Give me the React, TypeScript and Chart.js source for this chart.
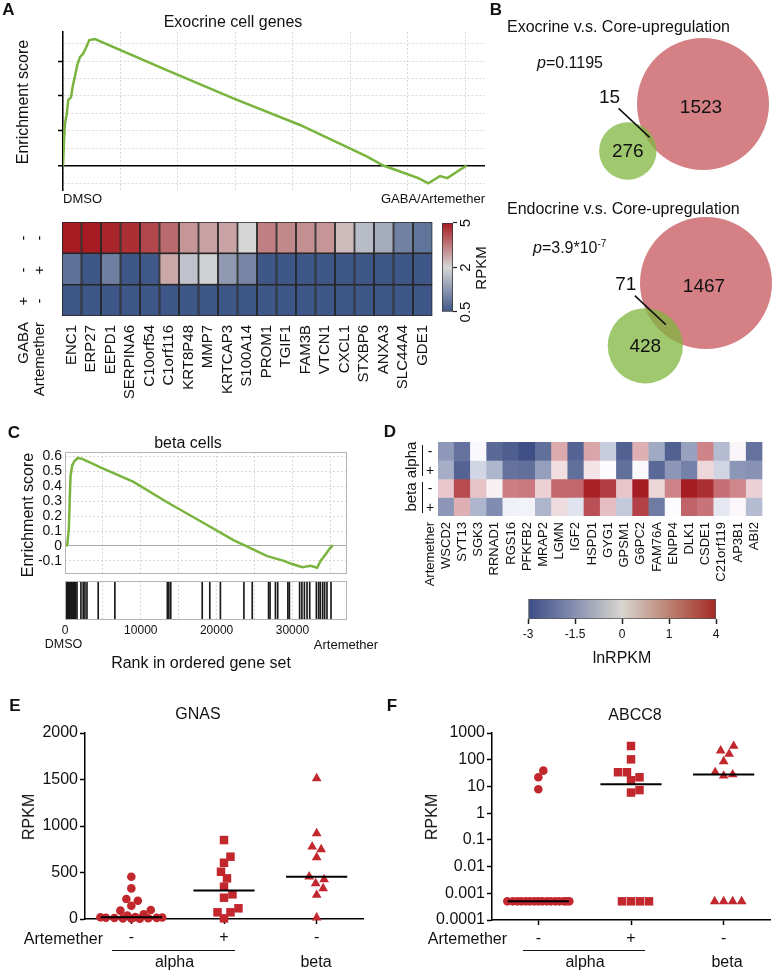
import React, { useEffect, useRef } from 'react';
import { Chart, registerables } from 'chart.js';

Chart.register(...registerables);

const FONT = '"Liberation Sans", Arial, Helvetica, sans-serif';
Chart.defaults.font.family = FONT;
Chart.defaults.color = '#111';

// ======================= DATA =======================
// Panel A – GSEA running enrichment score (exocrine cell genes)
const exoRankMax = 36700;
const exoRank = [0, 87, 174, 320, 460, 696, 843, 1044, 1244, 1478, 1766, 2000, 2290, 2783, 9019, 14813, 20612, 26412, 27860, 29310, 30900, 31775, 32790, 33420, 34530, 35110];
const exoES = [0, 0.074, 0.122, 0.146, 0.189, 0.196, 0.227, 0.257, 0.289, 0.311, 0.322, 0.338, 0.36, 0.363, 0.274, 0.193, 0.117, 0.027, 0.001, -0.016, -0.035, -0.05, -0.029, -0.035, -0.011, 0.001];
const exoRankGrid = [0, 5000, 10000, 15000, 20000, 25000, 30000, 35000];
const exoESGrid = [-0.05, 0, 0.05, 0.1, 0.15, 0.2, 0.25, 0.3, 0.35];

// Panel A – heatmap (RPKM)
const exoGenes = ['ENC1', 'ERP27', 'EEPD1', 'SERPINA6', 'C10orf54', 'C1orf116', 'KRT8P48', 'MMP7', 'KRTCAP3', 'S100A14', 'PROM1', 'TGIF1', 'FAM3B', 'VTCN1', 'CXCL1', 'STXBP6', 'ANXA3', 'SLC44A4', 'GDE1'];
const exoRowGABA = ['-', '-', '+'];
const exoRowArt = ['-', '+', '-'];
const exoRowMM = [5.0, 5.0, 4.85, 4.7, 4.3, 3.75, 3.05, 2.85, 2.8, 2.0, 3.4, 3.25, 3.15, 3.05, 2.45, 1.7, 1.5, 1.0, 0.85];
const exoRowMP = [0.83, 0.5, 0.98, 0.5, 0.52, 2.75, 1.77, 1.94, 1.3, 1.06, 0.5, 0.5, 0.5, 0.5, 0.5, 0.5, 0.5, 0.5, 0.5];
const exoRowPM = [0.5, 0.5, 0.5, 0.5, 0.5, 0.5, 0.5, 0.5, 0.5, 0.5, 0.5, 0.5, 0.5, 0.5, 0.5, 0.5, 0.5, 0.5, 0.5];
const rpkmTicks = [0.5, 2, 5];

// Panel B – Venn counts
const vennTitles = ['Exocrine v.s. Core-upregulation', 'Endocrine v.s. Core-upregulation'];
const vennSetOnly = [276, 428];
const vennOverlap = [15, 71];
const vennCoreOnly = [1523, 1467];

// Panel C – GSEA beta cells
const betaRankMax = 37200;
const betaRank = [0, 290, 500, 630, 730, 950, 1250, 1690, 2270, 4680, 9040, 13480, 17880, 22290, 23830, 26680, 28880, 29980, 31290, 32390, 33270, 33710, 34370, 34800, 35330];
const betaES = [0, 0.006, 0.11, 0.32, 0.47, 0.54, 0.57, 0.59, 0.584, 0.527, 0.43, 0.293, 0.166, 0.038, 0, -0.068, -0.1, -0.121, -0.142, -0.132, -0.146, -0.1, -0.057, -0.025, 0.006];
const betaHits = [0, 70, 150, 220, 310, 390, 460, 540, 610, 700, 770, 850, 930, 1010, 1090, 1170, 1240, 1330, 1410, 1580, 2100, 2400, 2630, 2900, 4380, 6580, 13500, 13700, 13950, 18100, 19100, 20500, 23600, 24700, 26850, 27050, 27760, 28060, 29400, 29600, 30950, 31250, 31580, 31930, 32280, 33160, 33460, 33680, 33990, 34250, 34560, 35090];
const betaRankGrid = [0, 5000, 10000, 15000, 20000, 25000, 30000, 35000];
const rankTickLabels = [0, 10000, 20000, 30000];
const betaESTicks = [-0.1, 0, 0.1, 0.2, 0.3, 0.4, 0.5, 0.6];

// Panel D – heatmap (lnRPKM)
const endoGenes = ['WSCD2', 'SYT13', 'SGK3', 'RRNAD1', 'RGS16', 'PFKFB2', 'MRAP2', 'LGMN', 'IGF2', 'HSPD1', 'GYG1', 'GPSM1', 'G6PC2', 'FAM76A', 'ENPP4', 'DLK1', 'CSDE1', 'C21orf119', 'AP3B1', 'ABI2'];
const endoRowCell = ['alpha', 'alpha', 'beta', 'beta'];
const endoRowArt = ['-', '+', '-', '+'];
const alphaMinus = [-1.7, -2.35, -0.05, -2.5, -2.7, -2.95, -2.4, 0.74, -2.6, 0.78, -0.8, -2.65, 0.68, -1.4, -2.65, -1.55, 1.24, -1.1, 0.06, -2.35];
const alphaPlus = [-1.35, -2.6, -0.65, -1.2, -2.35, -2.4, -1.6, 0.27, -2.4, 0.21, 0, -2.4, 0.04, -2.5, -1.73, -2.1, 0.33, -0.68, -1.73, -1.8];
const betaMinus = [0.46, 2.74, 0.51, 0.11, 1.4, 1.54, 0.39, 2.0, 2.0, 3.9, 3.1, 0.48, 4.0, 0.36, 1.24, 4.0, 3.5, 1.8, 1.13, 0.38];
const betaPlus = [-1.73, 0.69, -1.2, -1.9, -0.19, -0.15, -1.2, 0.29, -0.42, 2.6, 0.55, -0.88, 3.0, -2.2, 0, 2.07, 1.67, -0.34, 0.05, -1.1];
const lnTicks = [-3, -1.5, 0, 1, 4];

// Panels E / F – single-cell dot plots
const artemetherSigns = ['-', '+', '-'];
const gnasAlphaMinus = [455, 329, 215, 197, 143, 97, 90, 50, 36, 20, 18, 16, 14, 12, 10, 8, 6, 4, 2];
const gnasAlphaPlus = [849, 670, 605, 508, 437, 347, 265, 229, 115, 72, 72, 7];
const gnasBeta = [1512, 921, 777, 749, 663, 455, 426, 383, 329, 258, 14];
const gnasTicks = [0, 500, 1000, 1500, 2000];
const abcc8AlphaMinus = [39, 22, 7.8, 0.0005, 0.0005, 0.0005, 0.0005, 0.0005, 0.0005, 0.0005, 0.0005, 0.0005, 0.0005, 0.0005, 0.0005, 0.0005, 0.0005, 0.0005, 0.0005];
const abcc8AlphaPlus = [326, 103, 34, 34, 22, 17, 7.3, 5.9, 0.0005, 0.0005, 0.0005, 0.0005];
const abcc8Beta = [326, 218, 163, 86, 34, 28, 25, 0.0005, 0.0005, 0.0005, 0.0005];
const abcc8Ticks = [0.0001, 0.001, 0.01, 0.1, 1, 10, 100, 1000];

// ======================= STYLE / LAYOUT =======================
const GSEA_GREEN = '#78b43e';
const GRID = '#d8d8d8';
const DOT_RED = '#c1272d';
const VENN = {
  pxPerSqrt: 1.683,
  overlapScale: 2.9,
  redCenters: [[213, 74], [216, 253]],
  anglesDeg: [148, 134],
  leader: [-31, -29],
  labelOff: [-9, -11],
};

// ======================= HELPERS =======================
type RGB = [number, number, number];
const lerp = (a: RGB, b: RGB, t: number): string => {
  const k = Math.max(0, Math.min(1, t));
  return `rgb(${Math.round(a[0] + (b[0] - a[0]) * k)},${Math.round(a[1] + (b[1] - a[1]) * k)},${Math.round(a[2] + (b[2] - a[2]) * k)})`;
};
const A_BLUE: RGB = [62, 86, 136];
const A_GRAY: RGB = [214, 214, 214];
const A_RED: RGB = [166, 28, 34];
function rpkmPos(v: number) {
  return v <= 2 ? ((v - 0.5) / 1.5) * 0.5 : 0.5 + ((v - 2) / 3) * 0.5;
}
function rpkmColor(v: number) {
  const p = rpkmPos(v);
  return p <= 0.5 ? lerp(A_BLUE, A_GRAY, p / 0.5) : lerp(A_GRAY, A_RED, (p - 0.5) / 0.5);
}
const D_BLUE: RGB = [58, 76, 130];
const D_WHITE: RGB = [252, 252, 255];
const D_RED: RGB = [165, 28, 34];
function lnPos(v: number) {
  const n = lnTicks.length - 1;
  if (v <= lnTicks[0]) return 0;
  for (let i = 0; i < n; i++) {
    if (v <= lnTicks[i + 1]) return (i + (v - lnTicks[i]) / (lnTicks[i + 1] - lnTicks[i])) / n;
  }
  return 1;
}
function lnColor(v: number) {
  const p = lnPos(v);
  return p <= 0.5 ? lerp(D_BLUE, D_WHITE, p / 0.5) : lerp(D_WHITE, D_RED, (p - 0.5) / 0.5);
}
const LN_BAR_STOPS: [number, string][] = [[0, '#3b4c86'], [0.25, '#8790b0'], [0.5, '#d8d5cf'], [0.75, '#bb8271'], [1, '#a52a26']];

function hGradient(chart: any, stops: [number, string][]) {
  const a = chart.chartArea;
  if (!a) return stops[0][1];
  const g = chart.ctx.createLinearGradient(a.left, 0, a.right, 0);
  stops.forEach(([p, c]) => g.addColorStop(p, c));
  return g;
}

function median(a: number[]) {
  const s = [...a].sort((x, y) => x - y);
  const n = s.length;
  return n % 2 ? s[(n - 1) / 2] : (s[n / 2 - 1] + s[n / 2]) / 2;
}

function swarm(values: number[], yPx: (v: number) => number, diam: number, halfWidth: number) {
  const order = values.map((_, i) => i).sort((a, b) => values[a] - values[b]);
  const placed: { x: number; y: number }[] = [];
  const off: number[] = values.map(() => 0);
  const cands: number[] = [0];
  for (let s = 0.5; s <= halfWidth + 1e-9; s += 0.5) cands.push(s, -s);
  for (const i of order) {
    const y = yPx(values[i]);
    let best = 0;
    let bestD = -1;
    for (const c of cands) {
      let m = Infinity;
      for (const p of placed) m = Math.min(m, Math.hypot(p.x - c, p.y - y));
      if (m >= diam) { best = c; bestD = m; break; }
      if (m > bestD + 1e-6) { bestD = m; best = c; }
    }
    placed.push({ x: best, y });
    off[i] = best;
  }
  return off;
}

function lensArea(r1: number, r2: number, d: number) {
  if (d >= r1 + r2) return 0;
  if (d <= Math.abs(r1 - r2)) return Math.PI * Math.min(r1, r2) ** 2;
  const a = r1 * r1 * Math.acos((d * d + r1 * r1 - r2 * r2) / (2 * d * r1));
  const b = r2 * r2 * Math.acos((d * d + r2 * r2 - r1 * r1) / (2 * d * r2));
  const c = 0.5 * Math.sqrt((-d + r1 + r2) * (d + r1 - r2) * (d - r1 + r2) * (d + r1 + r2));
  return a + b - c;
}

const vennGeo = vennCoreOnly.map((core, i) => {
  const k = VENN.pxPerSqrt;
  const rRed = k * Math.sqrt(core + vennOverlap[i]);
  const rGreen = k * Math.sqrt(vennSetOnly[i] + vennOverlap[i]);
  const target = vennOverlap[i] * k * k * VENN.overlapScale;
  let lo = Math.abs(rRed - rGreen);
  let hi = rRed + rGreen;
  for (let it = 0; it < 60; it++) {
    const mid = (lo + hi) / 2;
    if (lensArea(rRed, rGreen, mid) > target) lo = mid; else hi = mid;
  }
  const d = (lo + hi) / 2;
  const ang = (VENN.anglesDeg[i] * Math.PI) / 180;
  const [cx, cy] = VENN.redCenters[i];
  const m = (d - rGreen + rRed) / 2;
  return {
    rRed, rGreen, cx, cy,
    gx: cx + d * Math.cos(ang), gy: cy + d * Math.sin(ang),
    mx: cx + m * Math.cos(ang), my: cy + m * Math.sin(ang),
  };
});

const baseOpts = (o: any) => ({
  responsive: false,
  maintainAspectRatio: false,
  animation: false,
  devicePixelRatio: 1,
  events: [],
  ...o,
  layout: { autoPadding: false, ...(o.layout || {}) },
  plugins: { legend: { display: false }, tooltip: { enabled: false }, ...(o.plugins || {}) },
});
const fixW = (w: number) => (s: any) => { s.width = w; };
const fixH = (h: number) => (s: any) => { s.height = h; };
const setTicks = (vals: number[]) => (s: any) => { s.ticks = vals.map((v) => ({ value: v })); };
const isTenth = (v: number) => Math.abs(v * 10 - Math.round(v * 10)) < 1e-6;

const framePlugin = (color: string) => ({
  id: 'frame',
  afterDraw(chart: any) {
    const { ctx, chartArea: a } = chart;
    ctx.save();
    ctx.strokeStyle = color;
    ctx.lineWidth = 1;
    ctx.strokeRect(Math.round(a.left) + 0.5, Math.round(a.top) + 0.5, Math.round(a.right - a.left) - 1, Math.round(a.bottom - a.top) - 1);
    ctx.restore();
  },
});

// ======================= CHART CONFIGS =======================
function cfgExoGsea() {
  return {
    type: 'line',
    data: { datasets: [{ data: exoRank.map((r, i) => ({ x: r, y: exoES[i] })), borderColor: GSEA_GREEN, borderWidth: 2.5, pointRadius: 0, tension: 0 }] },
    options: baseOpts({
      layout: { padding: { left: 55, top: 32, right: 15, bottom: 10 } },
      scales: {
        x: {
          type: 'linear', min: 0, max: exoRankMax, afterBuildTicks: setTicks(exoRankGrid), afterFit: fixH(0),
          ticks: { display: false }, grid: { color: GRID, drawTicks: false }, border: { display: false, dash: [2, 2] },
        },
        y: {
          type: 'linear', min: -0.069, max: 0.383, afterBuildTicks: setTicks(exoESGrid), afterFit: fixW(8),
          ticks: { display: false },
          grid: {
            color: (c: any) => (c.tick && c.tick.value === 0 ? '#000' : GRID),
            lineWidth: (c: any) => (c.tick && c.tick.value === 0 ? 1.5 : 1),
            tickLength: 5, tickWidth: 1.5,
            tickColor: (c: any) => (c.tick && c.tick.value >= 0 && isTenth(c.tick.value) ? '#000' : 'rgba(0,0,0,0)'),
          },
          border: { display: true, color: '#000', width: 1.5, dash: (c: any) => (c.tick && c.tick.value === 0 ? [] : [2, 2]) },
        },
      },
    }),
  };
}

function cfgExoHeat() {
  const rows = [exoRowMM, exoRowMP, exoRowPM];
  return {
    type: 'bar',
    data: {
      labels: exoGenes,
      datasets: rows.map((r) => ({
        data: r.map(() => 1), backgroundColor: r.map(rpkmColor), borderColor: '#262626', borderWidth: 1.2,
        borderSkipped: false, barPercentage: 1, categoryPercentage: 1,
      })),
    },
    options: baseOpts({
      layout: { padding: { left: 22, top: 7, right: 10, bottom: 0 } },
      scales: {
        x: {
          stacked: true, afterFit: fixH(90), grid: { display: false, drawTicks: false }, border: { display: false },
          ticks: { autoSkip: false, minRotation: 90, maxRotation: 90, padding: 9, font: { size: 15 }, color: '#111' },
        },
        y: { stacked: true, display: false, min: 0, max: rows.length, reverse: true },
      },
    }),
  };
}

function cfgRpkmBar() {
  const samples = [0.5, 0.8, 1.1, 1.4, 1.7, 2, 2.5, 3, 3.5, 4, 4.5, 5];
  const stops: [number, string][] = samples.map((v) => [rpkmPos(v), rpkmColor(v)]);
  return {
    type: 'bar',
    data: {
      labels: [''],
      datasets: [{
        data: [1], backgroundColor: (c: any) => hGradient(c.chart, stops), borderColor: '#333', borderWidth: 1,
        borderSkipped: false, barPercentage: 1, categoryPercentage: 1,
      }],
    },
    options: baseOpts({
      indexAxis: 'y',
      layout: { padding: { left: 20, right: 21, top: 0, bottom: 0 } },
      scales: {
        x: {
          type: 'linear', min: 0, max: 1, afterBuildTicks: setTicks(rpkmTicks.map(rpkmPos)), afterFit: fixH(39),
          ticks: { callback: (_v: any, i: number) => String(rpkmTicks[i]), font: { size: 15 }, padding: 0, maxRotation: 0, color: '#111' },
          grid: { drawOnChartArea: false, tickLength: 4, tickWidth: 1.2, tickColor: '#222' }, border: { display: false },
        },
        y: { display: false },
      },
    }),
  };
}

const vennTextPlugin = {
  id: 'vennText',
  afterDatasetsDraw(chart: any) {
    const { ctx, scales } = chart;
    const px = (v: number) => scales.x.getPixelForValue(v);
    const py = (v: number) => scales.y.getPixelForValue(v);
    ctx.save();
    ctx.fillStyle = '#111';
    ctx.font = `19px ${FONT}`;
    ctx.textAlign = 'center';
    ctx.textBaseline = 'middle';
    vennGeo.forEach((g, i) => {
      ctx.fillText(String(vennCoreOnly[i]), px(g.cx - 2), py(g.cy + 4));
      ctx.fillText(String(vennSetOnly[i]), px(g.gx), py(g.gy + 1));
      ctx.fillText(String(vennOverlap[i]), px(g.mx + VENN.leader[0] + VENN.labelOff[0]), py(g.my + VENN.leader[1] + VENN.labelOff[1]));
    });
    ctx.restore();
  },
};

function cfgVenn() {
  const leaders = vennGeo.map((g) => ({
    type: 'line',
    data: [{ x: g.mx, y: g.my }, { x: g.mx + VENN.leader[0], y: g.my + VENN.leader[1] }],
    borderColor: '#111', borderWidth: 1.5, pointRadius: 0, order: 0,
  }));
  return {
    type: 'bubble',
    data: {
      datasets: [
        ...leaders,
        { data: vennGeo.map((g) => ({ x: g.gx, y: g.gy, r: g.rGreen })), backgroundColor: 'rgba(128,182,62,0.75)', borderWidth: 0, order: 1 },
        { data: vennGeo.map((g) => ({ x: g.cx, y: g.cy, r: g.rRed })), backgroundColor: 'rgb(212,128,133)', borderWidth: 0, order: 2 },
      ],
    },
    options: baseOpts({
      layout: { padding: 0 },
      clip: false,
      scales: {
        x: { type: 'linear', min: 0, max: 286, display: false },
        y: { type: 'linear', min: 0, max: 360, reverse: true, display: false },
      },
    }),
    plugins: [vennTextPlugin],
  };
}

function cfgBetaGsea() {
  return {
    type: 'line',
    data: { datasets: [{ data: betaRank.map((r, i) => ({ x: r, y: betaES[i] })), borderColor: GSEA_GREEN, borderWidth: 2.5, pointRadius: 0, tension: 0 }] },
    options: baseOpts({
      layout: { padding: { left: 25, top: 22, right: 53, bottom: 5 } },
      scales: {
        x: {
          type: 'linear', min: 0, max: betaRankMax, afterBuildTicks: setTicks(betaRankGrid), afterFit: fixH(0),
          ticks: { display: false }, grid: { color: GRID, drawTicks: false }, border: { display: false, dash: [2, 2] },
        },
        y: {
          type: 'linear', min: -0.185, max: 0.63, afterBuildTicks: setTicks(betaESTicks), afterFit: fixW(40),
          ticks: { font: { size: 14 }, padding: 3, color: '#111', autoSkip: false, callback: (v: number) => String(Math.round(v * 10) / 10) },
          grid: { drawTicks: false, color: (c: any) => (c.tick && c.tick.value === 0 ? '#a8a8a8' : GRID) },
          border: { display: false, dash: (c: any) => (c.tick && c.tick.value === 0 ? [] : [2, 2]) },
        },
      },
    }),
    plugins: [framePlugin('#b5b5b5')],
  };
}

function cfgBarcode() {
  return {
    type: 'bar',
    data: { datasets: [{ data: betaHits.map((h) => ({ x: h, y: 1 })), backgroundColor: '#1a1a1a', barThickness: 1, borderWidth: 0 }] },
    options: baseOpts({
      layout: { padding: { left: 65, top: 6, right: 53, bottom: 0 } },
      scales: {
        x: {
          type: 'linear', min: 0, max: betaRankMax, offset: false, afterBuildTicks: setTicks(betaRankGrid), afterFit: fixH(25),
          ticks: { font: { size: 12 }, padding: 3, maxRotation: 0, autoSkip: false, color: '#111', callback: (v: number) => (rankTickLabels.includes(v) ? String(v) : '') },
          grid: { color: GRID, drawTicks: false, offset: false }, border: { display: false, dash: [2, 2] },
        },
        y: { display: false, min: 0, max: 1 },
      },
    }),
    plugins: [framePlugin('#b5b5b5')],
  };
}

function cfgEndoHeat() {
  const rows = [alphaMinus, alphaPlus, betaMinus, betaPlus];
  return {
    type: 'bar',
    data: {
      labels: endoGenes,
      datasets: rows.map((r) => ({
        data: r.map(() => 1), backgroundColor: r.map(lnColor), borderWidth: 0, barPercentage: 1, categoryPercentage: 1,
      })),
    },
    options: baseOpts({
      layout: { padding: { left: 38, top: 7, right: 3, bottom: 0 } },
      scales: {
        x: {
          stacked: true, afterFit: fixH(80), grid: { display: false, drawTicks: false }, border: { display: false },
          ticks: { autoSkip: false, minRotation: 90, maxRotation: 90, padding: 6, font: { size: 13 }, color: '#111' },
        },
        y: { stacked: true, display: false, min: 0, max: rows.length, reverse: true },
      },
    }),
  };
}

function cfgLnBar() {
  const n = lnTicks.length - 1;
  return {
    type: 'bar',
    data: {
      labels: [''],
      datasets: [{
        data: [n], backgroundColor: (c: any) => hGradient(c.chart, LN_BAR_STOPS), borderColor: '#555', borderWidth: 1,
        borderSkipped: false, barPercentage: 1, categoryPercentage: 1,
      }],
    },
    options: baseOpts({
      indexAxis: 'y',
      layout: { padding: { left: 28, right: 34, top: 4, bottom: 0 } },
      scales: {
        x: {
          type: 'linear', min: 0, max: n, afterBuildTicks: setTicks(lnTicks.map((_, i) => i)), afterFit: fixH(26),
          ticks: { callback: (_v: any, i: number) => String(lnTicks[i]), font: { size: 12 }, padding: 3, maxRotation: 0, color: '#111' },
          grid: { drawOnChartArea: false, tickLength: 5, tickWidth: 1.5, tickColor: '#222' }, border: { display: false },
        },
        y: { display: false },
      },
    }),
  };
}

const markers = [
  { pointStyle: 'circle', r: 4.3, d: 8.2 },
  { pointStyle: 'rect', r: 6, d: 8.8 },
  { pointStyle: 'triangle', r: 5.6, d: 9 },
];

function cfgDots(groups: number[][], yPx: (v: number) => number, pxPerCat: number, yScale: any, padding: any) {
  const datasets: any[] = [];
  groups.forEach((vals, gi) => {
    const m = markers[gi];
    const off = swarm(vals, yPx, m.d, 31);
    datasets.push({
      data: vals.map((v, i) => ({ x: gi + 1 + off[i] / pxPerCat, y: v })),
      pointStyle: m.pointStyle, pointRadius: m.r, backgroundColor: DOT_RED, borderWidth: 0, order: 2,
    });
    const med = median(vals);
    datasets.push({
      data: [{ x: gi + 1 - 0.33, y: med }, { x: gi + 1 + 0.33, y: med }],
      showLine: true, borderColor: '#000', borderWidth: 2, pointRadius: 0, order: 1,
    });
  });
  return {
    type: 'scatter',
    data: { datasets },
    options: baseOpts({
      layout: { padding },
      clip: false,
      scales: {
        x: {
          type: 'linear', min: 0.5, max: 3.5, afterBuildTicks: setTicks([1, 2, 3]), afterFit: fixH(40),
          ticks: { callback: (_v: any, i: number) => artemetherSigns[i], font: { size: 16 }, padding: 4, color: '#111', maxRotation: 0 },
          grid: { drawOnChartArea: false, drawTicks: true, tickLength: 5, tickWidth: 1.5, tickColor: '#000' },
          border: { display: true, color: '#000', width: 1.5 },
        },
        y: yScale,
      },
    }),
  };
}

function cfgGnas() {
  return cfgDots(
    [gnasAlphaMinus, gnasAlphaPlus, gnasBeta],
    (v) => (v * 186) / 2000,
    93,
    {
      type: 'linear', min: 0, max: 2000, afterBuildTicks: setTicks(gnasTicks), afterFit: fixW(60),
      ticks: { font: { size: 16 }, padding: 2, color: '#111', autoSkip: false, callback: (v: number) => String(v) },
      grid: { drawOnChartArea: false, tickLength: 5, tickWidth: 1.5, tickColor: '#000' },
      border: { display: true, color: '#000', width: 1.5 },
    },
    { left: 25, top: 13, right: 27, bottom: 1 },
  );
}

function cfgAbcc8() {
  return cfgDots(
    [abcc8AlphaMinus, abcc8AlphaPlus, abcc8Beta],
    (v) => Math.log10(v) * 26.7,
    92.7,
    {
      type: 'logarithmic', min: 0.0001, max: 1000, afterBuildTicks: setTicks(abcc8Ticks), afterFit: fixW(60),
      ticks: { font: { size: 16 }, padding: 2, color: '#111', autoSkip: false, callback: (v: number) => String(v) },
      grid: { drawOnChartArea: false, tickLength: 5, tickWidth: 1.5, tickColor: '#000' },
      border: { display: true, color: '#000', width: 1.5 },
    },
    { left: 42, top: 13, right: 6, bottom: 0 },
  );
}

// ======================= COMPONENTS =======================
function Cnv({ x, y, w, h, make, style }: { x: number; y: number; w: number; h: number; make: () => any; style?: any }) {
  const ref = useRef<HTMLCanvasElement | null>(null);
  useEffect(() => {
    const c = ref.current;
    if (!c) return;
    const chart = new Chart(c, make());
    return () => chart.destroy();
  }, []);
  return <canvas ref={ref} width={w} height={h} style={{ position: 'absolute', left: x, top: y, width: w, height: h, ...style }} />;
}

function T({ x, y, size = 16, anchor = 'center', bold = false, children }: any) {
  const tx = anchor === 'left' ? '0' : anchor === 'right' ? '-100%' : '-50%';
  return (
    <div style={{ position: 'absolute', left: x, top: y, transform: `translate(${tx}, -50%)`, fontSize: size, fontWeight: bold ? 'bold' : 'normal', whiteSpace: 'nowrap', lineHeight: 1, fontFamily: FONT, color: '#111' }}>
      {children}
    </div>
  );
}

function V({ x, y, size = 16, anchor = 'center', children }: any) {
  const ty = anchor === 'top' ? '0' : '-50%';
  return (
    <div style={{ position: 'absolute', left: x, top: y, transform: `translate(-50%, ${ty}) rotate(180deg)`, writingMode: 'vertical-rl', fontSize: size, whiteSpace: 'nowrap', lineHeight: 1, fontFamily: FONT, color: '#111' }}>
      {children}
    </div>
  );
}

function Line({ x, y, w, h }: any) {
  return <div style={{ position: 'absolute', left: x, top: y, width: w, height: h, background: '#111' }} />;
}

export default function App() {
  const exoRowY = [238, 269.5, 300.5];
  const endoRowY = [451, 469.5, 488, 506.5];
  return (
    <div style={{ position: 'absolute', left: 0, top: 0, width: 776, height: 972, background: '#fff', overflow: 'hidden', fontFamily: FONT }}>
      {/* Panel A */}
      <Cnv x={0} y={0} w={500} h={200} make={cfgExoGsea} />
      <Cnv x={40} y={215} w={410} h={191} make={cfgExoHeat} />
      <Cnv x={442} y={202} w={130} h={50} make={cfgRpkmBar} style={{ transformOrigin: 'left top', transform: 'translateY(130px) rotate(-90deg)' }} />
      <T x={8.5} y={9} size={17} bold>A</T>
      <T x={233} y={22}>Exocrine cell genes</T>
      <V x={23} y={102}>Enrichment score</V>
      <T x={63} y={198} size={13} anchor="left">DMSO</T>
      <T x={485} y={198} size={13} anchor="right">GABA/Artemether</T>
      {exoRowY.map((yy, i) => (
        <React.Fragment key={'ar' + i}>
          <V x={22} y={yy} size={15}>{exoRowGABA[i]}</V>
          <V x={38} y={yy} size={15}>{exoRowArt[i]}</V>
        </React.Fragment>
      ))}
      <V x={22} y={322} size={15} anchor="top">GABA</V>
      <V x={38} y={322} size={15} anchor="top">Artemether</V>
      <V x={480} y={268} size={15}>RPKM</V>

      {/* Panel B */}
      <Cnv x={490} y={30} w={286} h={360} make={cfgVenn} />
      <T x={496} y={9} size={17} bold>B</T>
      <T x={507} y={27} anchor="left">{vennTitles[0]}</T>
      <T x={537} y={63} anchor="left"><i>p</i>=0.1195</T>
      <T x={507} y={209} anchor="left">{vennTitles[1]}</T>
      <T x={533} y={248} anchor="left"><i>p</i>=3.9*10<sup style={{ fontSize: 10, verticalAlign: 'super', lineHeight: 0 }}>-7</sup></T>

      {/* Panel C */}
      <Cnv x={0} y={430} w={400} h={155} make={cfgBetaGsea} />
      <Cnv x={0} y={575} w={400} h={70} make={cfgBarcode} />
      <T x={14} y={432} size={17} bold>C</T>
      <T x={188} y={443}>beta cells</T>
      <V x={28} y={515}>Enrichment score</V>
      <T x={63.5} y={644} size={12.5}>DMSO</T>
      <T x={346} y={644} size={13}>Artemether</T>
      <T x={201} y={663}>Rank in ordered gene set</T>

      {/* Panel D */}
      <Cnv x={400} y={435} w={376} h={161} make={cfgEndoHeat} />
      <Cnv x={500} y={595} w={250} h={50} make={cfgLnBar} />
      <T x={390} y={431} size={17} bold>D</T>
      {endoRowY.map((yy, i) => (
        <T key={'dr' + i} x={430} y={yy} size={14}>{endoRowArt[i]}</T>
      ))}
      <V x={410} y={460} size={15}>{endoRowCell[0]}</V>
      <V x={410} y={497} size={15}>{endoRowCell[2]}</V>
      <Line x={421.5} y={445} w={1.5} h={31} />
      <Line x={421.5} y={482} w={1.5} h={31} />
      <V x={429} y={522} size={13} anchor="top">Artemether</V>
      <T x={622} y={658}>lnRPKM</T>

      {/* Panel E */}
      <Cnv x={0} y={720} w={390} h={240} make={cfgGnas} />
      <T x={15} y={705} size={17} bold>E</T>
      <T x={198} y={714}>GNAS</T>
      <V x={29} y={817}>RPKM</V>
      <T x={103} y={939} anchor="right">Artemether</T>
      <Line x={112} y={949.5} w={123} h={1.5} />
      <T x={174.5} y={962}>alpha</T>
      <T x={316} y={962}>beta</T>

      {/* Panel F */}
      <Cnv x={390} y={720} w={386} h={240} make={cfgAbcc8} />
      <T x={392} y={705} size={17} bold>F</T>
      <T x={635} y={715}>ABCC8</T>
      <V x={432} y={817}>RPKM</V>
      <T x={507} y={939} anchor="right">Artemether</T>
      <Line x={523} y={949.5} w={122} h={1.5} />
      <T x={585} y={962}>alpha</T>
      <T x={727} y={962}>beta</T>
    </div>
  );
}
